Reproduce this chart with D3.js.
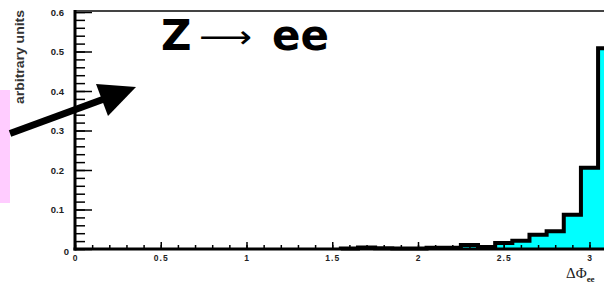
<!DOCTYPE html>
<html>
<head>
<meta charset="utf-8">
<script src="https://cdn.jsdelivr.net/npm/d3@7.9.0/dist/d3.min.js"></script>
<style>
  html, body { margin: 0; padding: 0; background: #fff; }
  svg { display: block; }
  .tick text { font-family: "Liberation Sans", Arial, sans-serif; font-weight: bold; fill: #222; }
</style>
</head>
<body>
<svg id="chart" width="604" height="284"></svg>
<script>
// histogram bins (lower edge, width 0.1) and heights
const binLo = [1.55, 1.65, 1.75, 1.85, 1.95, 2.05, 2.15, 2.25, 2.35, 2.45, 2.55, 2.65, 2.75, 2.85, 2.95, 3.05];
const binVal = [0.001, 0.004, 0.002, 0.001, 0.001, 0.003, 0.003, 0.010, 0.005, 0.015, 0.021, 0.036, 0.045, 0.087, 0.206, 0.508];
const binWidth = 0.1;

const xMajorTicks = [0, 0.5, 1, 1.5, 2, 2.5, 3];
const yMajorTicks = [0, 0.1, 0.2, 0.3, 0.4, 0.5, 0.6];

const svg = d3.select('#chart');

const x = d3.scaleLinear().domain([0, 3]).range([75, 589.5]);
const y = d3.scaleLinear().domain([0, 0.6]).range([249, 12]);

// points for the step outline / fill
let pts = [[binLo[0], 0]];
binLo.forEach((lo, i) => pts.push([lo, binVal[i]]));
let lastHi = binLo[binLo.length - 1] + binWidth;
pts.push([lastHi, binVal[binVal.length - 1]]);
pts.push([lastHi, 0]);

// pink strip on the left
svg.append('rect')
  .attr('x', 0).attr('y', 90).attr('width', 10).attr('height', 113)
  .attr('fill', '#ffccff');

// cyan fill
let area = d3.area()
  .x(d => x(d[0]))
  .y0(y(0))
  .y1(d => y(d[1]))
  .curve(d3.curveStepAfter);
svg.append('path')
  .attr('d', area(pts))
  .attr('fill', '#00ffff');

// black outline
let line = d3.line()
  .x(d => x(d[0]))
  .y(d => y(d[1]))
  .curve(d3.curveStepAfter);
svg.append('path')
  .attr('d', line(pts))
  .attr('fill', 'none')
  .attr('stroke', '#000')
  .attr('stroke-width', 4);

// x axis: minor + major ticks pointing up
svg.append('g')
  .attr('transform', `translate(0,${y(0)})`)
  .call(d3.axisBottom(x).tickValues(x.ticks(30)).tickSize(-4).tickFormat(''))
  .call(g => g.select('.domain').remove())
  .call(g => g.selectAll('line').attr('stroke', '#000').attr('stroke-width', 1.5));

svg.append('g')
  .attr('transform', `translate(0,${y(0)})`)
  .call(d3.axisBottom(x).tickValues(xMajorTicks).tickSize(-7).tickPadding(6)
    .tickFormat(d => d3.format('')(d)))
  .call(g => g.select('.domain').remove())
  .call(g => g.selectAll('line').attr('stroke', '#000').attr('stroke-width', 1.5))
  .call(g => g.selectAll('text').attr('font-size', 8.5).attr('letter-spacing', 1));

// y axis: minor + major ticks pointing right
svg.append('g')
  .attr('transform', `translate(${x(0)},0)`)
  .call(d3.axisLeft(y).tickValues(y.ticks(30)).tickSize(-10).tickFormat(''))
  .call(g => g.select('.domain').remove())
  .call(g => g.selectAll('line').attr('stroke', '#000').attr('stroke-width', 1.5));

svg.append('g')
  .attr('transform', `translate(${x(0)},0)`)
  .call(d3.axisLeft(y).tickValues(yMajorTicks).tickSize(-17).tickPadding(11)
    .tickFormat(d => d === 0 ? '0' : d3.format('.1f')(d)))
  .call(g => g.select('.domain').remove())
  .call(g => g.selectAll('line').attr('stroke', '#000').attr('stroke-width', 1.5))
  .call(g => g.selectAll('text').attr('font-size', 9.5))
  .call(g => g.selectAll('.tick').filter(d => d === 0).select('text')
    .attr('dx', 5).attr('dy', '0.6em'));

// frame lines
svg.append('line')
  .attr('x1', x(0)).attr('x2', 604).attr('y1', 11).attr('y2', 11)
  .attr('stroke', '#444').attr('stroke-width', 2);
svg.append('line')
  .attr('x1', x(0)).attr('x2', x(0)).attr('y1', 10).attr('y2', y(0) + 1.5)
  .attr('stroke', '#000').attr('stroke-width', 3);
svg.append('line')
  .attr('x1', x(0) - 1.5).attr('x2', 604).attr('y1', y(0)).attr('y2', y(0))
  .attr('stroke', '#000').attr('stroke-width', 3);

// y axis title
svg.append('text')
  .attr('transform', 'translate(24,57) rotate(-90)')
  .attr('text-anchor', 'middle')
  .attr('font-family', '"Liberation Sans", Arial, sans-serif')
  .attr('font-weight', 'bold')
  .attr('font-size', 12)
  .attr('textLength', 94)
  .attr('lengthAdjust', 'spacingAndGlyphs')
  .attr('fill', '#333')
  .text('arbitrary units');

// x axis title
let xt = svg.append('text')
  .attr('x', 566).attr('y', 278)
  .attr('font-family', '"Liberation Serif", "Times New Roman", serif')
  .attr('font-size', 15)
  .attr('fill', '#222');
xt.append('tspan').text('ΔΦ');
xt.append('tspan').attr('font-size', 9).attr('dy', 4).attr('font-weight', 'bold').text('ee');

// title
let titleFont = '"DejaVu Sans", sans-serif';
svg.append('text')
  .attr('x', 161).attr('y', 50)
  .attr('font-family', titleFont).attr('font-weight', 'bold').attr('font-size', 42)
  .text('Z');
// long thin arrow, stretched to ~52px
let arr = svg.append('text')
  .attr('font-family', '"DejaVu Sans", sans-serif')
  .attr('font-size', 32)
  .text('⟶');
let bb = arr.node().getBBox();
let sx = 53 / bb.width;
arr.attr('transform', `translate(199,48) scale(${sx},1)`);
svg.append('text')
  .attr('x', 272).attr('y', 50)
  .attr('font-family', titleFont).attr('font-weight', 'bold').attr('font-size', 42)
  .text('ee');

// big annotation arrow
svg.append('line')
  .attr('x1', 10).attr('y1', 133.5).attr('x2', 104).attr('y2', 99)
  .attr('stroke', '#000').attr('stroke-width', 7);
svg.append('path')
  .attr('d', 'M136,87 L96,84 L108,116 Z')
  .attr('fill', '#000');
</script>
</body>
</html>
